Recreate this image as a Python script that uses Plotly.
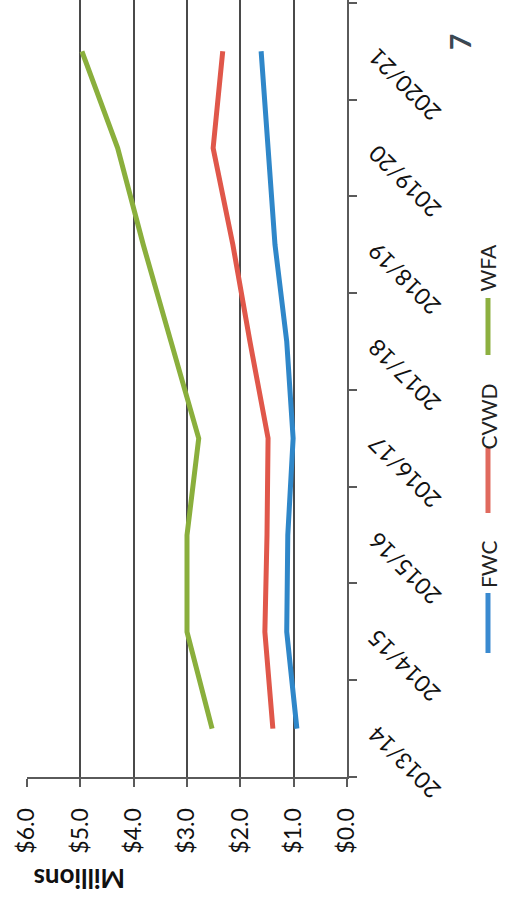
import plotly.graph_objects as go

categories = ["2013/14", "2014/15", "2015/16", "2016/17", "2017/18", "2018/19", "2019/20", "2020/21"]
fwc = [0.94, 1.13, 1.11, 1.01, 1.13, 1.35, 1.48, 1.61]
cvwd = [1.39, 1.54, 1.50, 1.48, 1.82, 2.14, 2.51, 2.33]
wfa = [2.53, 3.00, 3.00, 2.78, 3.30, 3.82, 4.30, 4.97]
value_ticks = [0, 1, 2, 3, 4, 5, 6]
value_labels = ["$0.0", "$1.0", "$2.0", "$3.0", "$4.0", "$5.0", "$6.0"]
series_names = ["FWC", "CVWD", "WFA"]
colors = ["#2f87c9", "#e0574a", "#8aaf3c"]
legend_colors = ["#3a8ad0", "#e06a5e", "#8db040"]

FONT = "Lato"

fig = go.Figure()
for name, vals, col in zip(series_names, [fwc, cvwd, wfa], colors):
    fig.add_trace(go.Scatter(x=vals, y=categories, mode="lines", name=name,
                             line=dict(color=col, width=5), showlegend=False))

fig.update_xaxes(range=[6, 0], tickvals=value_ticks, ticktext=value_labels,
                 tickangle=-90, tickfont=dict(family=FONT, size=23, color="#111"),
                 showgrid=True, gridcolor="#4a4a4a", gridwidth=2,
                 showline=True, linecolor="#5a5a5a", linewidth=2,
                 ticks="outside", ticklen=8, tickcolor="#5a5a5a", tickwidth=2,
                 ticklabelstandoff=12, zeroline=False, automargin=False)
fig.update_yaxes(type="category", categoryorder="array", categoryarray=categories,
                 range=[-0.5, 7.53], side="right", showticklabels=False,
                 showgrid=False, showline=True, linecolor="#5a5a5a", linewidth=2,
                 ticks="outside", ticklen=8, tickcolor="#5a5a5a", tickwidth=2,
                 tickson="boundaries", zeroline=False, automargin=False)

annotations = []
for c in categories:
    annotations.append(dict(x=1.0406, xref="paper", y=c, yref="y", yshift=10,
                            text=c, textangle=-135, showarrow=False,
                            xanchor="left", yanchor="top",
                            font=dict(family=FONT, size=23, color="#111")))
annotations.append(dict(x=0.1625, y=-0.131, xref="paper", yref="paper", text="<b>Millions</b>",
                        textangle=180, showarrow=False, xanchor="center", yanchor="middle",
                        font=dict(family=FONT, size=26, color="#111")))
annotations.append(dict(x=1.353, y=0.946, xref="paper", yref="paper", text="<b>7</b>",
                        textangle=-90, showarrow=False, xanchor="center", yanchor="middle",
                        font=dict(family=FONT, size=28, color="#3b4852")))

legend_text_y = [0.2741, 0.464, 0.6557]
legend_line_y = [(0.1596, 0.2368), (0.3398, 0.4234), (0.5431, 0.6165)]
shapes = []
for name, col, ty, (y0, y1) in zip(series_names, legend_colors, legend_text_y, legend_line_y):
    annotations.append(dict(x=1.4406, y=ty, xref="paper", yref="paper", text=name,
                            textangle=-90, showarrow=False, xanchor="center", yanchor="middle",
                            font=dict(family=FONT, size=21, color="#222")))
    shapes.append(dict(type="line", xref="paper", yref="paper", x0=1.4406, x1=1.4406,
                       y0=y0, y1=y1, line=dict(color=col, width=5)))

fig.update_layout(width=509, height=903, margin=dict(l=27, r=162, t=0, b=126, autoexpand=False),
                  plot_bgcolor="white", paper_bgcolor="white",
                  annotations=annotations, shapes=shapes)

fig.write_html("out.html")
